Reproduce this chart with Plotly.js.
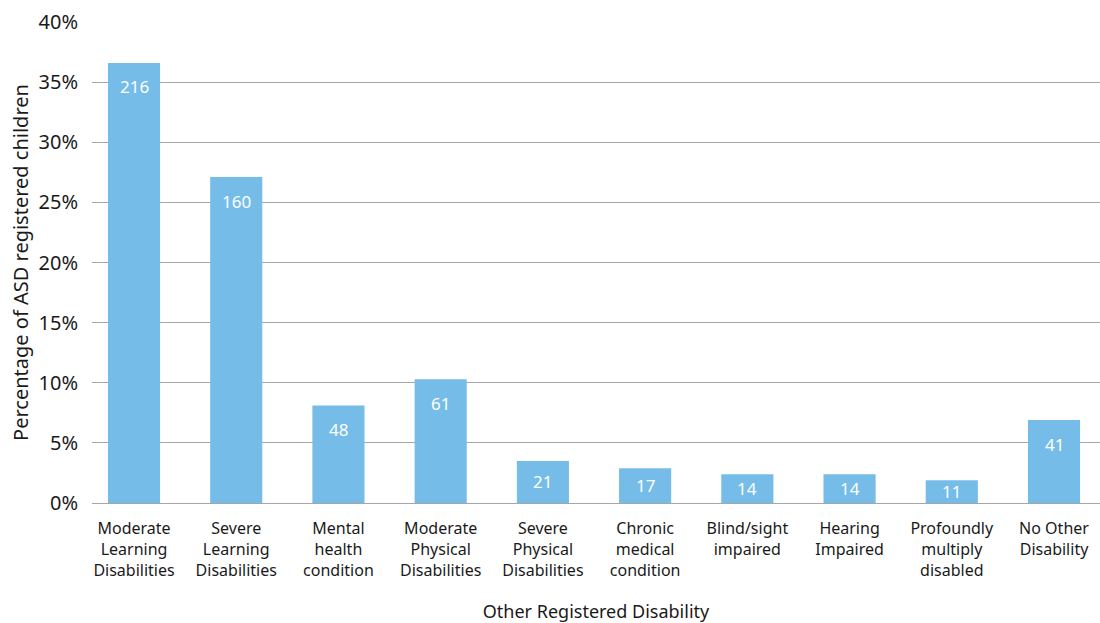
<!DOCTYPE html>
<html>
<head>
<meta charset="utf-8">
<script src="https://cdn.plot.ly/plotly-3.0.1.min.js"></script>
<style>html,body{margin:0;padding:0;background:#fff;}#chart{width:1100px;height:623px;}</style>
</head>
<body>
<div id="chart"></div>
<script>
const categories = [
  "Moderate<br>Learning<br>Disabilities",
  "Severe<br>Learning<br>Disabilities",
  "Mental<br>health<br>condition",
  "Moderate<br>Physical<br>Disabilities",
  "Severe<br>Physical<br>Disabilities",
  "Chronic<br>medical<br>condition",
  "Blind/sight<br>impaired",
  "Hearing<br>Impaired",
  "Profoundly<br>multiply<br>disabled",
  "No Other<br>Disability"
];
const percentages = [36.6, 27.1, 8.1, 10.3, 3.5, 2.9, 2.4, 2.4, 1.9, 6.9];
const counts = [216, 160, 48, 61, 21, 17, 14, 14, 11, 41];
const yTickValues = [0, 5, 10, 15, 20, 25, 30, 35, 40];
const yTickLabels = ["0%", "5%", "10%", "15%", "20%", "25%", "30%", "35%", "40%"];

const FONT = "Noto Sans, Open Sans, sans-serif";
const PLOT_H = 481, Y_MAX = 40;

const trace = {
  type: "bar",
  x: categories.map((c, i) => i),
  y: percentages,
  width: 0.51,
  marker: {color: "#75BDE8", line: {width: 0}},
  hoverinfo: "none"
};

const annotations = counts.map((c, i) => {
  const hPx = percentages[i] / Y_MAX * PLOT_H;
  return {
    x: i, y: percentages[i], xref: "x", yref: "y",
    text: String(c), showarrow: false,
    yshift: -Math.min(24, hPx / 2), yanchor: "middle",
    font: {family: FONT, size: 17, color: "#ffffff"}
  };
});

const layout = {
  width: 1100, height: 623,
  margin: {l: 92, r: 0, t: 22, b: 120},
  paper_bgcolor: "#ffffff", plot_bgcolor: "#ffffff",
  showlegend: false,
  font: {family: FONT, color: "#1a1a1a"},
  xaxis: {
    tickmode: "array",
    tickvals: categories.map((c, i) => i),
    ticktext: categories,
    range: [-0.411, 9.45],
    showgrid: false, zeroline: false,
    showline: true, linecolor: "#A6A6A6", linewidth: 1,
    ticks: "outside", ticklen: 11, tickcolor: "rgba(0,0,0,0)",
    tickfont: {family: FONT, size: 16, color: "#1a1a1a"},
    title: {text: "Other Registered Disability", font: {family: FONT, size: 18, color: "#1a1a1a"}, standoff: 27}
  },
  yaxis: {
    range: [0, 40],
    tickmode: "array", tickvals: yTickValues, ticktext: yTickLabels,
    showgrid: true, gridcolor: "#A6A6A6", gridwidth: 1,
    zeroline: false, showline: false,
    ticks: "outside", ticklen: 9, tickcolor: "rgba(0,0,0,0)",
    tickfont: {family: FONT, size: 20, color: "#1a1a1a"},
    title: {text: "Percentage of ASD registered children", font: {family: FONT, size: 20, color: "#1a1a1a"}, standoff: 4}
  },
  annotations: annotations
};

Plotly.newPlot("chart", [trace], layout, {displayModeBar: false, staticPlot: true});
</script>
</body>
</html>
